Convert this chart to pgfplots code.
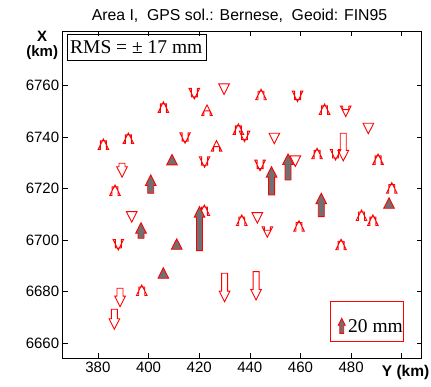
\documentclass[border=0pt]{standalone}
\usepackage{pgfplots}
\pgfplotsset{compat=1.18}
\usepackage{fontspec}
\setmainfont{Liberation Sans}
\newfontfamily\timesf{Liberation Serif}
\definecolor{agray}{RGB}{112,112,112}
\newdimen\arrL \newdimen\arrB \newdimen\arrFF
\def\arrT{2}\def\arrF{0}
\def\hh{10.5}\def\hw{5.3}\def\sw{3}
\pgfdeclareplotmark{varrow}{%
  \pgfscope
  \pgfmathsetlength\arrL{\arrT}%
  \pgfmathsetlength\arrFF{\arrF}%
  \ifdim\arrL<0pt \pgftransformyscale{-1}\arrL=-\arrL\fi
  \arrB=\arrL \advance\arrB by -\hh pt
  \pgfpathmoveto{\pgfqpoint{-\sw pt}{0pt}}%
  \pgfpathlineto{\pgfqpoint{-\sw pt}{\arrB}}%
  \pgfpathlineto{\pgfqpoint{-\hw pt}{\arrB}}%
  \pgfpathlineto{\pgfqpoint{0pt}{\arrL}}%
  \pgfpathlineto{\pgfqpoint{\hw pt}{\arrB}}%
  \pgfpathlineto{\pgfqpoint{\sw pt}{\arrB}}%
  \pgfpathlineto{\pgfqpoint{\sw pt}{0pt}}%
  \pgfpathclose
  \ifdim\arrFF>0.5pt \pgfsetfillcolor{agray}\pgfusepathqfillstroke\else\pgfusepathqstroke\fi
  \endpgfscope
}
\pgfplotstableread{
Y X T F
418.09 6755.61 -2 0
429.82 6760.66 -10.5 0
444.43 6757.83 2 0
458.85 6754.57 -2 0
405.85 6752.90 2 0
423.10 6750.18 6 0
469.51 6752.12 2 0
477.88 6750.68 -7 0
486.81 6745.40 -10.5 0
435.47 6744.36 2 0
437.91 6739.04 -2 0
449.68 6741.52 -10.5 0
476.90 6741.52 -27.7 0
382.15 6738.53 2 0
392.02 6740.86 2 0
414.42 6738.42 -2 0
426.86 6736.32 6 0
466.55 6734.92 2 0
473.85 6731.93 -2 0
490.64 6732.71 2 0
409.28 6729.22 10.5 1
422.12 6729.10 -2 0
455.09 6723.39 26 1
457.98 6732.71 -10.5 0
444.04 6727.78 -2 0
389.53 6729.88 -14 0
448.58 6717.57 28.3 1
400.87 6718.23 18.3 1
386.77 6720.68 2 0
496.05 6721.57 2 0
494.98 6712.41 10.5 1
468.21 6709.15 23.4 1
422.04 6712.91 2 0
420.14 6695.95 44 1
393.36 6711.09 -10.5 0
397.04 6700.76 15.6 1
436.81 6709.03 2 0
442.97 6710.70 -10.5 0
484.12 6710.97 2 0
488.59 6709.03 2 0
446.92 6703.87 -7 0
459.44 6706.82 2 0
388.07 6697.00 -2 0
411.14 6696.49 10.5 1
476.03 6699.60 2 0
405.85 6685.23 10.5 1
430.02 6687.17 -28.4 0
442.46 6687.80 -28.3 0
397.31 6681.86 2 0
388.74 6681.35 -18.4 0
386.49 6673.20 -20 0
}\stations
\pgfplotstableread{
Y X T F
476.30 6663.88 22.7 1
}\legendarrow
\begin{document}
\begin{tikzpicture}
\useasboundingbox (-62.7pt,-29pt) rectangle (368.3pt,358pt);
\begin{axis}[
  at={(0pt,0pt)}, anchor=south west,
  scale only axis, width=358.8pt, height=327pt,
  xmin=366.1, xmax=507.8, ymin=6654.3, ymax=6781.2,
  xtick={380,400,...,500}, ytick={6660,6680,...,6760},
  xticklabels={380,400,420,440,460,480,},
  tick align=inside, major tick length=5pt,
  axis line style={line width=0.8pt},
  every tick/.style={black, line width=0.6pt},
  tick label style={font=\fontsize{15}{17}\selectfont},
  /pgf/number format/assume math mode=true,
  /pgf/number format/1000 sep={},
  clip=false,
]
\addplot[scatter, only marks, mark=varrow, red,
  mark options={line width=0.9pt, solid},
  scatter/@pre marker code/.code={}, scatter/@post marker code/.code={},
  visualization depends on={\thisrow{T} \as \arrT},
  visualization depends on={\thisrow{F} \as \arrF},
] table[x=Y, y=X] {\stations};
\addplot[scatter, only marks, mark=varrow, red,
  mark options={line width=0.9pt, solid, scale=0.66},
  scatter/@pre marker code/.code={}, scatter/@post marker code/.code={},
  visualization depends on={\thisrow{T} \as \arrT},
  visualization depends on={\thisrow{F} \as \arrF},
] table[x=Y, y=X] {\legendarrow};
\end{axis}
% title
\node[anchor=base, font=\fontsize{15.8}{18}\selectfont] at (176.8pt,337.3pt) {Area I,\ \ GPS sol.: Bernese,\ \ Geoid: FIN95};
% axis labels
\node[anchor=north east, align=center, font=\bfseries\fontsize{15}{15.5}\selectfont, inner sep=0pt] at (-4.5pt,327.5pt) {X\\(km)};
\node[anchor=base west, font=\bfseries\fontsize{15.5}{17}\selectfont, inner sep=0pt] at (319pt,-19pt) {Y (km)};
% RMS box
\draw[line width=0.8pt] (4.8pt,298pt) rectangle (143.3pt,324pt);
\node[anchor=base west, inner sep=0pt, font=\timesf\fontsize{19.5}{21}\selectfont] at (7.3pt,304pt) {RMS = ± 17 mm};
% legend box
\draw[red, line width=1.4pt] (268pt,16.6pt) rectangle (341pt,56.3pt);
\node[anchor=base west, inner sep=0pt, font=\timesf\fontsize{19.5}{21}\selectfont] at (285.3pt,25.3pt) {20 mm};
\end{tikzpicture}
\end{document}
